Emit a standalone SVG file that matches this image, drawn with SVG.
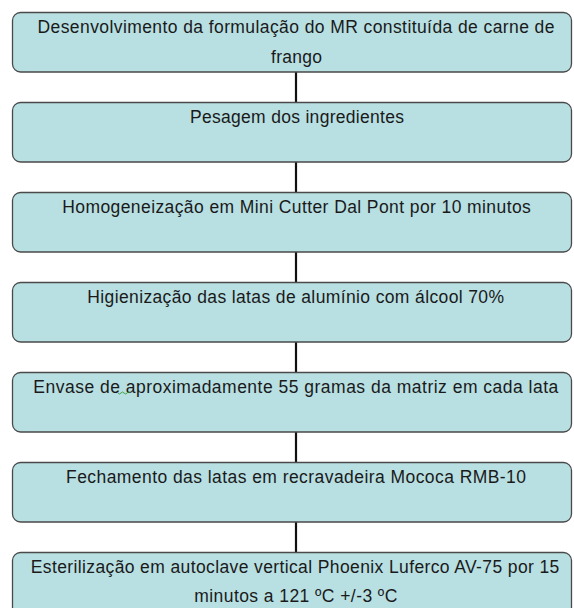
<svg xmlns="http://www.w3.org/2000/svg" width="574" height="608" viewBox="0 0 574 608">
<style>
.box{fill:#b8dfe2;stroke:#4a4a4a;stroke-width:1.3}
.t{font-family:"Liberation Sans",Arial,sans-serif;font-size:17.5px;fill:#1a1a1a}
.c{stroke:#111;stroke-width:2.2;fill:none}
</style>
<rect width="574" height="608" fill="#fff"/>
<g id="connectors">
<line class="c" x1="296" y1="72" x2="296" y2="102"/>
<line class="c" x1="296" y1="162" x2="296" y2="192"/>
<line class="c" x1="296" y1="252" x2="296" y2="282"/>
<line class="c" x1="296" y1="342" x2="296" y2="372"/>
<line class="c" x1="296" y1="432" x2="296" y2="462"/>
<line class="c" x1="296" y1="522" x2="296" y2="552"/>
</g>
<g id="n1"><rect class="box" x="12.5" y="12.5" width="559" height="59.5" rx="8"/>
<text class="t" x="37.5" y="32.5" textLength="517" lengthAdjust="spacing">Desenvolvimento da formulação do MR constituída de carne de</text>
<text class="t" x="271" y="63" textLength="51" lengthAdjust="spacing">frango</text></g>
<g id="n2"><rect class="box" x="12.5" y="102.5" width="559" height="59.5" rx="8"/>
<text class="t" x="190" y="122.5" textLength="214" lengthAdjust="spacing">Pesagem dos ingredientes</text></g>
<g id="n3"><rect class="box" x="12.5" y="192.5" width="559" height="59.5" rx="8"/>
<text class="t" x="62.3" y="212.5" textLength="468.5" lengthAdjust="spacing">Homogeneização em Mini Cutter Dal Pont por 10 minutos</text></g>
<g id="n4"><rect class="box" x="12.5" y="282.5" width="559" height="59.5" rx="8"/>
<text class="t" x="87.3" y="302.5" textLength="416.7" lengthAdjust="spacing">Higienização das latas de alumínio com álcool 70%</text></g>
<g id="n5"><rect class="box" x="12.5" y="372.5" width="559" height="59.5" rx="8"/>
<text class="t" x="33.3" y="392.5" textLength="525" lengthAdjust="spacing">Envase de aproximadamente 55 gramas da matriz em cada lata</text>
<path d="M118,393 q1.5,2 3,0 t3,0 t3,0 t3,0" fill="none" stroke="#3a9a3a" stroke-width="0.9"/></g>
<g id="n6"><rect class="box" x="12.5" y="462.5" width="559" height="59.5" rx="8"/>
<text class="t" x="66" y="482.5" textLength="460" lengthAdjust="spacing">Fechamento das latas em recravadeira Mococa RMB-10</text></g>
<g id="n7"><rect class="box" x="12.5" y="552.5" width="559" height="70" rx="8"/>
<text class="t" x="30.7" y="572.5" textLength="528.6" lengthAdjust="spacing">Esterilização em autoclave vertical Phoenix Luferco AV-75 por 15</text>
<text class="t" x="194.3" y="602" textLength="203" lengthAdjust="spacing">minutos a 121 ºC +/-3 ºC</text></g>
</svg>
